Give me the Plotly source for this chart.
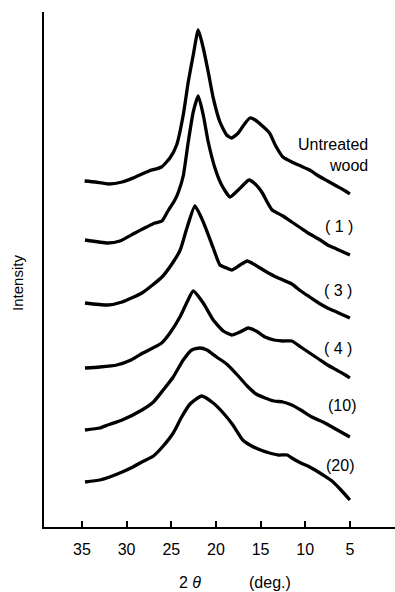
import plotly.graph_objects as go

# 2-theta (deg) and intensity (arbitrary, offset)
deg_untreated = [34.7, 33.5, 32.0, 30.5, 29.0, 27.5, 26.1, 25.15, 24.4, 23.66, 23.1, 22.54, 21.98, 21.42,
                 20.86, 20.3, 19.55, 18.8, 18.24, 17.5, 16.8, 16.2, 15.6, 14.8, 14.0, 13.3, 12.5, 11.5,
                 10.5, 9.5, 8.5, 7.5, 6.5, 5.5, 5.0]
int_untreated = [346, 345, 343, 345, 350, 356, 360, 369, 382, 412, 445, 472, 497, 479,
                 455, 429, 405, 392, 389, 394, 403, 409, 407, 401, 394, 381, 370, 365,
                 361, 357, 351, 346, 341, 336, 333]

deg_1 = [34.66, 32.1, 30.75, 29.07, 26.83, 26.04, 25.37, 24.6, 24.2, 23.66, 23.1, 22.54, 21.98, 21.42,
         20.86, 20.11, 19.36, 18.43, 17.5, 16.3, 15.6, 14.8, 14.2, 13.7, 12.5, 11.5, 10.5, 9.5,
         8.5, 7.5, 6.5, 5.5, 5.0]
int_1 = [287, 284, 286, 294, 304, 306, 316, 327, 335, 351, 385, 415, 431, 412,
         385, 359, 342, 330, 337, 347, 343, 334, 324, 317, 311, 305, 299, 293,
         288, 282, 278, 274, 272]

deg_3 = [34.66, 32.1, 30.5, 28.28, 26.04, 24.78, 24.0, 23.28, 22.35, 21.42, 20.3, 19.55, 18.8, 18.2,
         17.3, 16.5, 15.6, 14.5, 13.5, 12.5, 11.5, 10.5, 9.5, 8.5, 7.5, 6.5, 5.5, 5.0]
int_3 = [224, 222, 225, 234, 250, 265, 277, 298, 321, 305, 279, 262, 259, 257,
         262, 266, 262, 256, 251, 247, 243, 236, 230, 224, 219, 215, 211, 209]

deg_4 = [34.66, 33.0, 31.1, 29.5, 28.17, 26.08, 25.15, 24.03, 23.28, 22.54, 21.42, 20.3, 19.18, 18.24,
         17.31, 16.4, 15.5, 14.5, 13.5, 12.5, 11.5, 10.5, 9.5, 8.5, 7.5, 6.5, 5.5, 5.0]
int_4 = [159, 160, 162, 167, 174, 184, 194, 210, 224, 236, 224, 207, 196, 192,
         195, 199, 196, 190, 187, 186, 186, 180, 174, 168, 162, 157, 152, 149]

deg_10 = [34.66, 33.0, 32.1, 30.5, 28.28, 27.0, 25.9, 24.78, 23.66, 22.7, 21.8, 21.0, 19.93, 18.8,
          17.5, 16.5, 15.5, 14.5, 13.5, 12.5, 11.5, 10.5, 9.25, 8.0, 7.0, 6.0, 5.0]
int_10 = [97, 99, 102, 107, 117, 125, 137, 150, 167, 177, 179, 177, 170, 163,
          151, 141, 133, 129, 126, 125, 122, 117, 110, 105, 100, 95, 90]

deg_20 = [34.66, 33.0, 31.9, 30.5, 29.3, 28.3, 27.0, 25.9, 24.78, 23.84, 22.9, 21.6, 20.3, 19.18,
          18.1, 17.0, 16.0, 15.0, 14.0, 13.0, 12.0, 11.5, 10.5, 9.5, 8.9, 8.0, 7.0, 6.0, 5.0]
int_20 = [45, 47, 50, 55, 60, 65, 71, 81, 94, 110, 123, 131, 124, 114,
          102, 87, 81, 77, 74, 72, 72, 69, 64, 60, 57, 52, 46, 37, 27]

series = [
    (deg_untreated, int_untreated),
    (deg_1, int_1),
    (deg_3, int_3),
    (deg_4, int_4),
    (deg_10, int_10),
    (deg_20, int_20),
]

labels = ["Untreated<br>wood", "( 1 )", "( 3 )", "( 4 )", "(10)", "(20)"]
label_x = [2.76, 6.23, 6.34, 6.34, 5.89, 6.12]
label_y = [372, 301, 237, 179, 122, 62]

tick_vals = [35, 30, 25, 20, 15, 10, 5]
tick_text = ["35", "30", "25", "20", "15", "10", "5"]

FONT = "Liberation Sans, Arial, sans-serif"

fig = go.Figure()
for xs, ys in series:
    fig.add_trace(go.Scatter(x=xs, y=ys, mode="lines",
                             line=dict(color="black", width=3.3, shape="spline", smoothing=0.5),
                             showlegend=False, hoverinfo="skip"))

for i, (t, lx, ly) in enumerate(zip(labels, label_x, label_y)):
    if i == 0:
        fig.add_annotation(x=lx, y=ly, xref="x", yref="y", text=t, showarrow=False,
                           xanchor="right", yanchor="middle", align="right",
                           font=dict(family=FONT, size=16, color="black"))
    else:
        fig.add_annotation(x=lx, y=ly, xref="x", yref="y", text=t, showarrow=False,
                           xanchor="center", yanchor="middle",
                           font=dict(family=FONT, size=16, color="black"))

# axis titles
fig.add_annotation(x=22.91, y=-0.107, xref="x", yref="paper", text="2 <i>θ</i>",
                   showarrow=False, xanchor="center", yanchor="middle",
                   font=dict(family=FONT, size=16, color="black"))
fig.add_annotation(x=13.95, y=-0.107, xref="x", yref="paper", text="(deg.)",
                   showarrow=False, xanchor="center", yanchor="middle",
                   font=dict(family=FONT, size=16, color="black"))
fig.add_annotation(x=-0.074, y=0.474, xref="paper", yref="paper", text="Intensity",
                   showarrow=False, textangle=-90, xanchor="center", yanchor="middle",
                   font=dict(family=FONT, size=15, color="black"))

fig.update_xaxes(range=[39.25, -0.05], tickmode="array", tickvals=tick_vals, ticktext=tick_text,
                 ticks="inside", ticklen=6, tickwidth=1.5, tickcolor="black",
                 showline=True, linecolor="black", linewidth=1.5, showgrid=False, zeroline=False,
                 tickfont=dict(family=FONT, size=16, color="black"), ticklabelstandoff=7)
fig.update_yaxes(range=[0, 515], showticklabels=False, ticks="", showline=True,
                 linecolor="black", linewidth=1.5, showgrid=False, zeroline=False)

fig.update_layout(width=395, height=592, margin=dict(l=44, r=0, t=12, b=65),
                  plot_bgcolor="white", paper_bgcolor="white",
                  font=dict(family=FONT, color="black"))

fig.write_html("out.html")
